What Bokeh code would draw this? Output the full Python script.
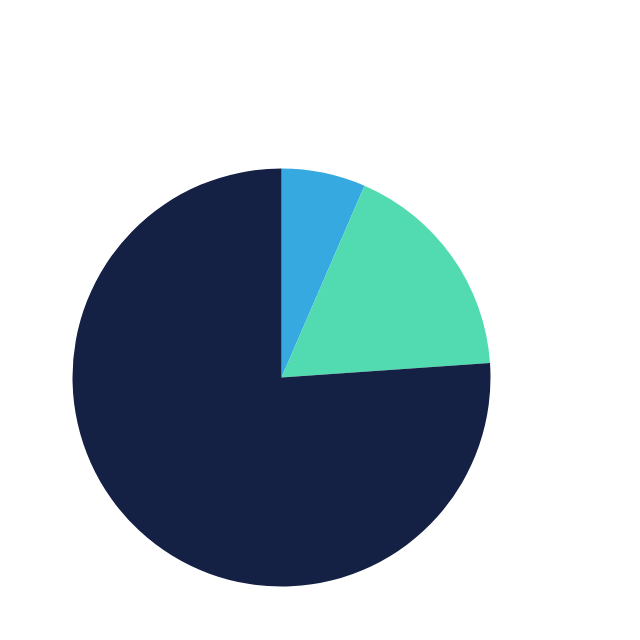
import numpy as np
from bokeh.plotting import figure
from bokeh.models import ColumnDataSource, Range1d
from bokeh.embed import file_html
from bokeh.resources import INLINE

categories = ["A", "B", "C"]
values = [6.5, 17.4, 76.1]
colors = ["#36A9E1", "#52DBB0", "#142145"]

vals = np.array(values, dtype=float)
fr = vals / vals.sum()
cum = np.concatenate([[0.0], np.cumsum(fr)])
start = np.pi / 2 - cum[1:] * 2 * np.pi
end = np.pi / 2 - cum[:-1] * 2 * np.pi

src = ColumnDataSource(dict(cat=categories, start=start, end=end, color=colors))

W = H = 624
R = 209.0
cx, cy = 281.0, 377.0
p = figure(width=W, height=H, output_backend="svg", toolbar_location=None,
           x_range=Range1d(-cx / R, (W - cx) / R), y_range=Range1d(-(H - cy) / R, cy / R),
           min_border=0, outline_line_color=None)
p.wedge(x=0, y=0, radius=1, start_angle="start", end_angle="end",
        fill_color="color", line_color=None, source=src)
p.axis.visible = False
p.grid.visible = False
p.background_fill_color = "white"
p.border_fill_color = "white"

open("out.html", "w").write(file_html(p, INLINE))
